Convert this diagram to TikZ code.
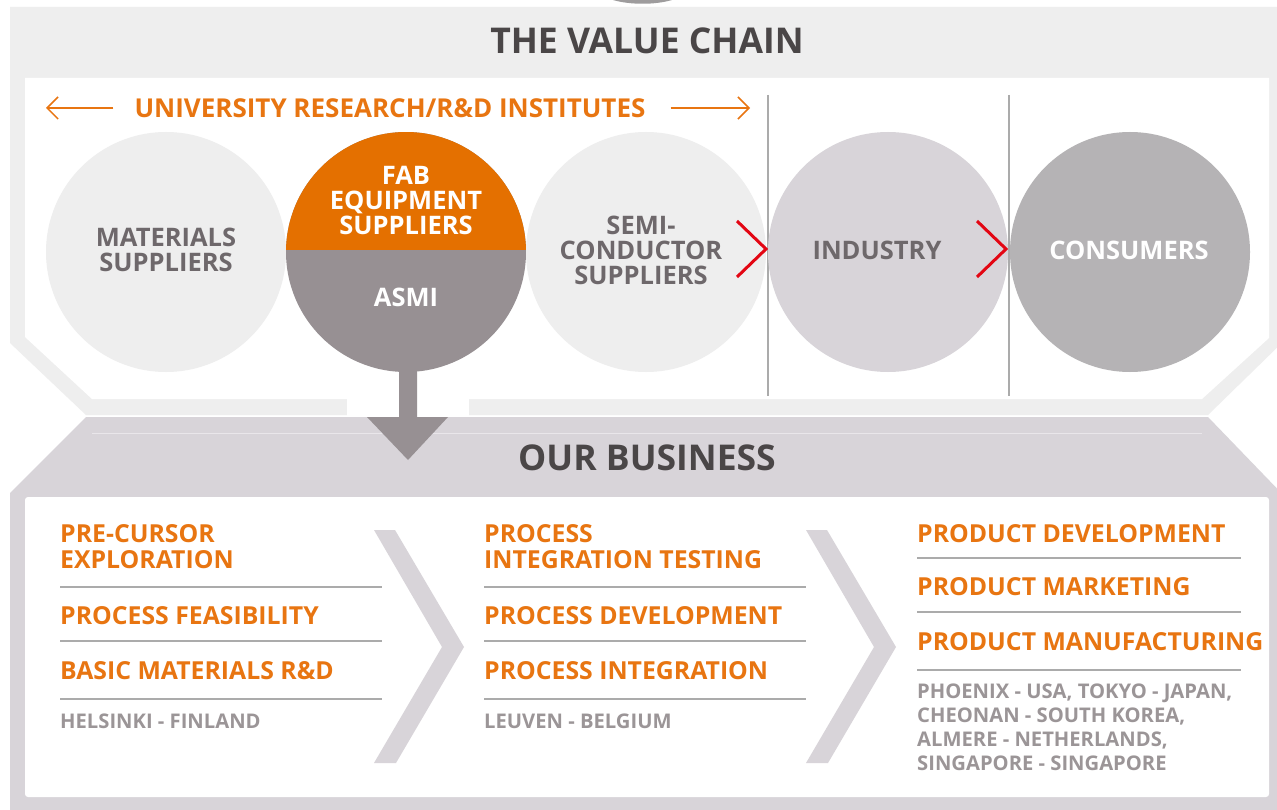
\documentclass[tikz,border=0pt]{standalone}
\usepackage{fontspec}
\setmainfont{Open Sans}
\usetikzlibrary{positioning,calc,arrows.meta}
\definecolor{framegrey}{HTML}{EEEEEE}
\definecolor{bandgrey}{HTML}{D8D4D9}
\definecolor{bandline}{HTML}{E9E6EA}
\definecolor{asmorange}{HTML}{E47000}
\definecolor{itemorange}{HTML}{E87511}
\definecolor{asmigrey}{HTML}{979093}
\definecolor{consgrey}{HTML}{B5B3B5}
\definecolor{titlegrey}{HTML}{4A4647}
\definecolor{bubblegrey}{HTML}{6E686B}
\definecolor{placegrey}{HTML}{9B9597}
\definecolor{sepgrey}{HTML}{ABABAB}
\definecolor{markred}{HTML}{E30613}
\definecolor{topgrey}{HTML}{9E9C9D}

\begin{document}
\begin{tikzpicture}[x=1pt,y=-1pt]
\tikzset{title/.style={font=\fontsize{35.5}{36}\selectfont\bfseries, text=titlegrey, inner sep=0},
  bubble/.style={circle, minimum size=240pt, inner sep=0},
  bubbletext/.style={font=\fontsize{25.5}{25}\selectfont\bfseries, align=center, inner sep=0, text=bubblegrey},
  item/.style={font=\fontsize{24.8}{26}\selectfont\bfseries, text=itemorange, anchor=base west, inner sep=0},
  place/.style={font=\fontsize{20.2}{24}\selectfont\bfseries, text=placegrey, anchor=base west, inner sep=0},
  sep/.style={draw=sepgrey, line width=1.8pt},
  divider/.style={draw=sepgrey, line width=1.5pt},
  redmark/.style={draw=markred, line width=3pt},
  uniarrow/.style={draw=itemorange, line width=1.5pt, -{Straight Barb[length=11pt,width=22pt]}}};
\useasboundingbox (0,0) rectangle (1277,810);
\fill[white] (0,0) rectangle (1277,810);

% value chain frame
\fill[topgrey] (613,0) .. controls (630,5) and (655,5) .. (672,0) -- cycle;
\fill[framegrey] (10,7) -- (1290,7) -- (1290,335) -- (1208,415) -- (86,415) -- (10,343) -- cycle;
\fill[white] (25,78) -- (1269,78) -- (1269,338) -- (1202,399) -- (92,399) -- (25,337) -- cycle;
\fill[white] (347,398) rectangle (469,417);
\node[title] (chain) at (647,41) {THE VALUE CHAIN};

% our business band
\fill[bandgrey] (86,417) -- (1208,417) -- (1290,502) -- (1290,810) -- (10,810) -- (10,493) -- cycle;
\draw[bandline, line width=1pt] (92,433) -- (1202,433);
\fill[white, rounded corners=3pt] (25,497) rectangle (1269,797);
\node[title] (business) at (647,458) {OUR BUSINESS};

% research line
\node[font=\fontsize{26}{26}\selectfont\bfseries, text=itemorange, inner sep=0] (uni) at (390,108) {UNIVERSITY RESEARCH/R\&D INSTITUTES};
\coordinate (uniL) at (46,108);
\coordinate (uniR) at (750,108);
\draw[uniarrow] ([xshift=-21pt]uni.west) -- (uniL);
\draw[uniarrow] ([xshift=25pt]uni.east) -- (uniR);

\draw[divider] (768,95) -- (768,396);
\draw[divider] (1009,95) -- (1009,396);

% asmi arrow
\fill[asmigrey] (399,360) -- (399,417) -- (367,417) -- (408,460) -- (448,417) -- (417,417) -- (417,360) -- cycle;

% circles
\node[bubble, fill=framegrey] (mat) at (166,252) {};
\node[bubble] (fab) at (406,252) {};
\begin{scope}
  \clip (fab) circle[radius=120pt];
  \fill[asmigrey] (286,132) rectangle (526,372);
  \fill[asmorange] (286,132) rectangle (526,250);
\end{scope}
\node[bubble, fill=framegrey] (semi) at (646,252) {};
\node[bubble, fill=bandgrey] (industry) at (888,252) {};
\node[bubble, fill=consgrey] (consumers) at (1130,252) {};

\node[bubbletext] (mattext) at (166,250) {MATERIALS\\SUPPLIERS};
\node[bubbletext, text=white] (fabtext) at (406,200) {FAB\\EQUIPMENT\\SUPPLIERS};
\node[bubbletext, text=white] (asmi) at (406,297) {ASMI};
\node[bubbletext] (semitext) at (641,250) {SEMI-\\CONDUCTOR\\SUPPLIERS};
\node[bubbletext] (industrytext) at (877,250) {INDUSTRY};
\node[bubbletext, text=white] (consumerstext) at (1129,250) {CONSUMERS};

\draw[redmark] (737,221) -- (766,249) -- (737,277);
\draw[redmark] (977,221) -- (1006,249) -- (977,277);

% chevrons
\foreach \cx in {374,806}
  \fill[bandgrey] (\cx,530) -- ++(21,0) -- ++(69,117) -- ++(-68,116) -- ++(-22,0) -- ++(68,-116) -- cycle;

% column 1
\node[item] (precursor) at (60,542) {PRE-CURSOR};
\node[item] (explore) at (60,568) {EXPLORATION};
\node[item] (feasible) at (60,624) {PROCESS FEASIBILITY};
\node[item] (basic) at (60,679) {BASIC MATERIALS R\&D};
\node[place] (helsinki) at (60,728) {HELSINKI - FINLAND};
\foreach \ly in {587,641,699}
  \draw[sep] (60,\ly) -- (382,\ly);

% column 2
\node[item] (process) at (484,542) {PROCESS};
\node[item] (testing) at (484,568) {INTEGRATION TESTING};
\node[item] (develop) at (484,624) {PROCESS DEVELOPMENT};
\node[item] (integrate) at (484,679) {PROCESS INTEGRATION};
\node[place] (leuven) at (484,728) {LEUVEN - BELGIUM};
\foreach \ly in {587,641,699}
  \draw[sep] (484,\ly) -- (806,\ly);

% column 3
\node[item] (proddev) at (917,542) {PRODUCT DEVELOPMENT};
\node[item] (prodmark) at (917,595) {PRODUCT MARKETING};
\node[item] (prodman) at (917,650) {PRODUCT MANUFACTURING};
\node[place] (phoenix) at (917,698) {PHOENIX - USA, TOKYO - JAPAN,};
\node[place] (cheonan) at (917,722) {CHEONAN - SOUTH KOREA,};
\node[place] (almere) at (917,746) {ALMERE - NETHERLANDS,};
\node[place] (singapore) at (917,770) {SINGAPORE - SINGAPORE};
\foreach \ly in {558,612,670}
  \draw[sep] (917,\ly) -- (1241,\ly);
\end{tikzpicture}
\end{document}
